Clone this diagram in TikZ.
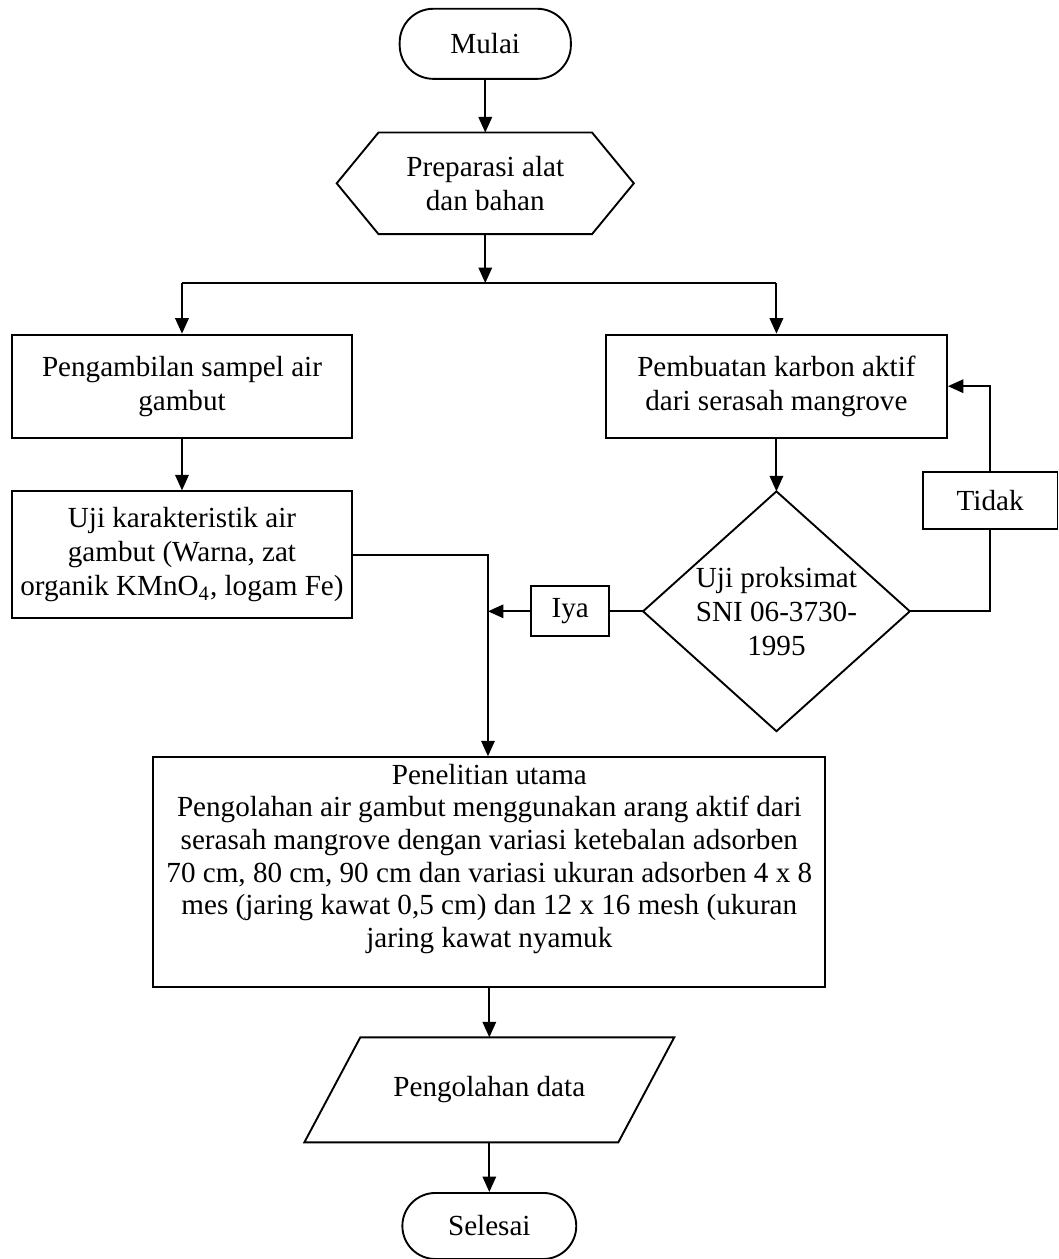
\documentclass[tikz,border=0pt]{standalone}
\usepackage{fontspec}
\setmainfont{Liberation Serif}
\usetikzlibrary{arrows.meta,calc}
\begin{document}
\begin{tikzpicture}[font=\fontsize{12.3}{14.4}\selectfont, line width=0.8pt,
  box/.style={draw, align=center, inner sep=2pt},
  tipe/.style={-{Triangle[length=2.3mm,width=2mm]}}]
\useasboundingbox (0,0) rectangle (15.71,-18.68);

\node[box, rounded corners=0.5cm, minimum width=2.54cm, minimum height=1.04cm] (mulai) at (7.20,-0.65) {Mulai};
\node[align=center, minimum width=4.38cm, minimum height=1.48cm] (prep) at (7.20,-2.72) {Preparasi alat\\dan bahan};
\draw (prep.west) -- ($(prep.north west)+(0.62,0)$) -- ($(prep.north east)+(-0.62,0)$) -- (prep.east)
  -- ($(prep.south east)+(-0.62,0)$) -- ($(prep.south west)+(0.62,0)$) -- cycle;

\coordinate (split) at (7.20,-4.20);
\coordinate (sL) at (2.70,-4.20);
\coordinate (sR) at (11.52,-4.20);

\node[box, minimum width=5.04cm, minimum height=1.53cm] (sampel) at (2.70,-5.73) {Pengambilan sampel air\\gambut};
\node[box, minimum width=5.06cm, minimum height=1.53cm] (karbon) at (11.52,-5.73) {Pembuatan karbon aktif\\dari serasah mangrove};
\node[box, minimum width=5.04cm, minimum height=1.88cm] (ujiair) at (2.70,-8.23) {Uji karakteristik air\\gambut (Warna, zat\\organik KMnO\textsubscript{4}, logam Fe)};

\node[align=center, inner sep=0pt, minimum width=3.93cm, minimum height=3.53cm] (uji) at (11.52,-9.07) {Uji proksimat\\SNI 06-3730-\\1995};
\draw (uji.north) -- (uji.east) -- (uji.south) -- (uji.west) -- cycle;

\node[box, minimum width=1.16cm, minimum height=0.74cm] (iya) at (8.46,-9.07) {Iya};
\node[box, minimum width=2.0cm, minimum height=0.85cm] (tidak) at (14.69,-7.43) {Tidak};
\coordinate (join) at (7.24,-9.07);

\node[box, inner ysep=0pt, minimum width=9.97cm, minimum height=3.41cm, font=\fontsize{12.3}{13.8}\selectfont] (utama) at (7.26,-12.94) {Penelitian utama\\
Pengolahan air gambut menggunakan arang aktif dari\\
serasah mangrove dengan variasi ketebalan adsorben\\
70 cm, 80 cm, 90 cm dan variasi ukuran adsorben 4 x 8\\
mes (jaring kawat 0,5 cm) dan 12 x 16 mesh (ukuran\\
jaring kawat nyamuk\\\mbox{}};

\node[align=center, minimum width=4.63cm, minimum height=1.53cm] (olah) at (7.26,-16.17) {Pengolahan data};
\draw ($(olah.north west)+(0.415,0)$) -- ($(olah.north east)+(0.415,0)$)
  -- ($(olah.south east)+(-0.415,0)$) -- ($(olah.south west)+(-0.415,0)$) -- cycle;

\node[box, rounded corners=0.49cm, minimum width=2.58cm, minimum height=0.98cm] (selesai) at (7.26,-18.19) {Selesai};

\draw[tipe] (mulai.south) -- (prep.north);
\draw[tipe] (prep.south) -- (split);
\draw (sL) -- (sR);
\draw[tipe] (sL) -- (sampel.north);
\draw[tipe] (sR) -- (karbon.north);
\draw[tipe] (sampel.south) -- (ujiair.north);
\draw[tipe] (karbon.south) -- (uji.north);
\draw (uji.west) -- (iya.east);
\draw[tipe] (iya.west) -- (join);
\draw[tipe] (ujiair.east) -- (ujiair.east -| join) -- (join |- utama.north);
\draw (uji.east) -| (tidak.south);
\draw[tipe] (tidak.north) |- (karbon.east);
\draw[tipe] (utama.south) -- (olah.north);
\draw[tipe] (olah.south) -- (selesai.north);
\end{tikzpicture}
\end{document}
